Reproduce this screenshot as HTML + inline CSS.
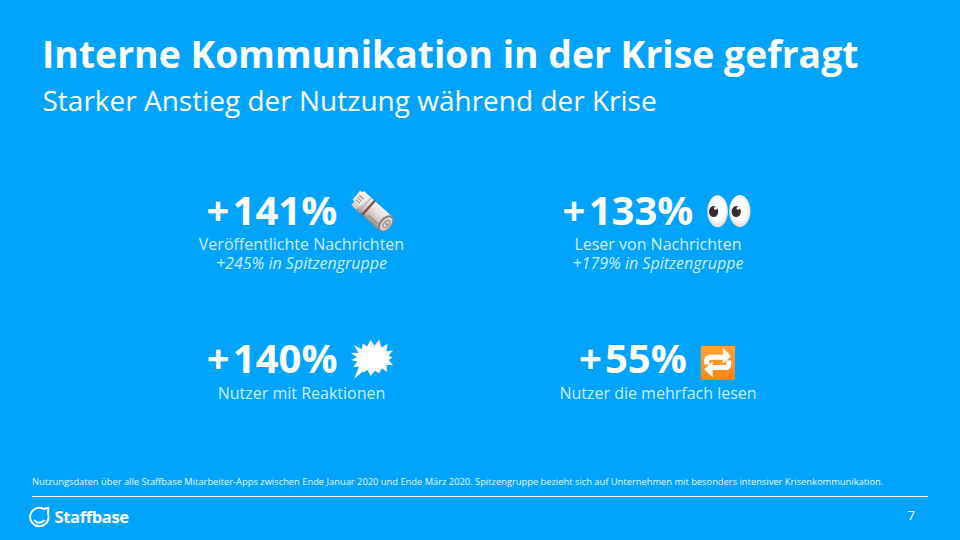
<!DOCTYPE html>
<html lang="de">
<head>
<meta charset="utf-8">
<title>Interne Kommunikation in der Krise gefragt</title>
<style>
  html, body { margin: 0; padding: 0; }
  body { width: 960px; height: 540px; overflow: hidden; background: #00A4FD; position: relative;
         font-family: "Open Sans", "Liberation Sans", sans-serif; color: #fff; }
  .abs { position: absolute; white-space: nowrap; }
  #title { left: 42px; top: 29px; font-size: 37.33px; font-weight: 700; line-height: 50px; }
  #sub { left: 42.5px; top: 81px; font-size: 28px; font-weight: 400; line-height: 38px; }
  .num { position: absolute; font-size: 40px; font-weight: 700; line-height: 54px; white-space: nowrap; }
  .num .p { position: relative; }
  .lbl { position: absolute; width: 400px; text-align: center; font-size: 16px; line-height: 20px; color: #CDEFFF; white-space: nowrap; }
  .lbl i { font-style: italic; }
  .ic { position: absolute; overflow: visible; }
  #foot { left: 32px; top: 475.2px; font-size: 9.33px; line-height: 13px; color: #E6F6FF; }
  #rule { position: absolute; left: 32px; top: 496px; width: 896px; height: 1.33px; background: #fff; }
  #pg { left: 907.5px; top: 506px; font-size: 13.33px; line-height: 18px; color: #fff; }
  #logo { position: absolute; left: 26px; top: 504px; overflow: visible; }
  #logotxt { left: 54.5px; top: 505px; font-size: 16.6px; font-weight: 700; line-height: 24px; letter-spacing: -0.4px; }
</style>
</head>
<body>
<div id="title" class="abs">Interne Kommunikation in der Krise gefragt</div>
<div id="sub" class="abs">Starker Anstieg der Nutzung während der Krise</div>

<!-- stat 1 -->
<div class="num" id="n1" style="left:209.7px; top:182.5px;"><span class="p" style="left:-3.2px">+</span>141%</div>
<svg class="ic" id="e1" width="50" height="48" viewBox="0 0 50 48" style="left:348px; top:188px;">
  <defs>
    <linearGradient id="roll" x1="0" y1="0" x2="0" y2="1">
      <stop offset="0" stop-color="#F6F2F1"/>
      <stop offset="0.45" stop-color="#E4DBD9"/>
      <stop offset="0.8" stop-color="#C3B7B4"/>
      <stop offset="1" stop-color="#94847F"/>
    </linearGradient>
    <linearGradient id="flap" x1="0" y1="0" x2="0" y2="1">
      <stop offset="0" stop-color="#FBF7F6"/>
      <stop offset="1" stop-color="#D2C8C4"/>
    </linearGradient>
  </defs>
  <g transform="translate(26.6,25.4) rotate(42)">
    <path d="M-23,-9.5 L-13,-9.5 L-13,9.5 L-23,9.5 Z" fill="url(#flap)"/>
    <path d="M-26,-7 L-15,-9.5 L-15,4 L-25.5,4.5 Z" fill="#F7F2F1"/>
    <rect x="-23.5" y="-3.8" width="6" height="1.4" fill="#A9A09A"/>
    <rect x="-23.5" y="-1" width="6" height="1.4" fill="#A9A09A"/>
    <rect x="-23.5" y="1.8" width="6" height="1.4" fill="#A9A09A"/>
    <rect x="-16" y="-9.5" width="31" height="19" fill="url(#roll)"/>
    <rect x="-13.5" y="-9.5" width="1.2" height="19" fill="#B8ACA8"/>
    <rect x="-9.5" y="-9.8" width="2.4" height="19.6" fill="#84524A"/>
    <rect x="-3" y="4.8" width="12" height="1.3" fill="#9E8883"/>
    <ellipse cx="15" cy="0" rx="6" ry="9.5" fill="#8C7C78"/>
    <ellipse cx="15.6" cy="0" rx="4.6" ry="7.9" fill="#DDD3D1"/>
    <ellipse cx="16" cy="0" rx="2.5" ry="4.4" fill="none" stroke="#9A8A86" stroke-width="1.2"/><circle cx="16.2" cy="0" r="1.1" fill="#8E7470"/>
  </g>
</svg>
<div class="lbl" style="left:101.5px; top:234.2px;">Veröffentlichte Nachrichten</div>
<div class="lbl" style="left:101.5px; top:253.1px;"><i>+245% in Spitzengruppe</i></div>

<!-- stat 2 -->
<div class="num" id="n2" style="left:565.8px; top:182.5px;"><span class="p" style="left:-3.2px">+</span>133%</div>
<svg class="ic" id="e2" width="50" height="40" viewBox="0 0 50 40" style="left:704px; top:191px;">
  <defs>
    <radialGradient id="eye" cx="0.5" cy="0.45" r="0.55">
      <stop offset="0.6" stop-color="#FFFFFF"/>
      <stop offset="1" stop-color="#E2D8DA"/>
    </radialGradient>
  </defs>
  <ellipse cx="13.6" cy="20.2" rx="10.3" ry="16" fill="url(#eye)"/>
  <ellipse cx="35.8" cy="20" rx="10.6" ry="16" fill="url(#eye)"/>
  <ellipse cx="9.6" cy="20.6" rx="4.6" ry="5.5" fill="#352B2B"/>
  <ellipse cx="32.2" cy="20.6" rx="4.6" ry="5.5" fill="#352B2B"/>
  <circle cx="11.5" cy="17.2" r="1.5" fill="#fff"/>
  <circle cx="34.1" cy="17.2" r="1.5" fill="#fff"/>
</svg>
<div class="lbl" style="left:458px; top:234.2px;">Leser von Nachrichten</div>
<div class="lbl" style="left:458px; top:253.1px;"><i>+179% in Spitzengruppe</i></div>

<!-- stat 3 -->
<div class="num" id="n3" style="left:209.9px; top:331.4px;"><span class="p" style="left:-3.2px">+</span>140%</div>
<svg class="ic" id="e3" width="52" height="50" viewBox="0 0 52 50" style="left:346px; top:334px;">
  <defs>
    <radialGradient id="bub" cx="0.55" cy="0.5" r="0.6">
      <stop offset="0.5" stop-color="#FFFFFF"/>
      <stop offset="1" stop-color="#F3ECEE"/>
    </radialGradient>
  </defs>
  <polygon fill="url(#bub)" points="33.1,5.4 35.4,13.5 41.6,10.0 40.4,17.4 47.2,16.2 42.6,21.6 46.6,23.4 42.7,26.1 47.0,31.3 40.5,30.8 41.1,38.0 35.8,34.6 33.1,39.4 29.0,36.7 24.7,42.0 21.4,36.0 17.5,38.6 14.8,32.4 7.3,33.1 11.4,27.4 5.0,26.0 10.9,23.2 4.8,18.8 12.3,19.0 8.0,11.0 15.6,15.3 16.8,9.6 21.2,12.4 24.7,5.8 28.5,11.7"/>
  <polygon fill="#FFFFFF" points="14,30.5 20.5,34.5 8.2,44.5"/>
</svg>
<div class="lbl" style="left:101.5px; top:383.3px;">Nutzer mit Reaktionen</div>

<!-- stat 4 -->
<div class="num" id="n4" style="left:582.1px; top:331.4px;"><span class="p" style="left:-3.2px">+</span>55%</div>
<svg class="ic" id="e4" width="36" height="36" viewBox="0 0 36 36" style="left:700px; top:345px;">
  <defs>
    <linearGradient id="org" x1="0" y1="0" x2="0" y2="1">
      <stop offset="0" stop-color="#FFA43A"/>
      <stop offset="1" stop-color="#FF8414"/>
    </linearGradient>
  </defs>
  <rect x="0.8" y="1" width="34.2" height="33.8" rx="1.2" fill="url(#org)"/>
  <path d="M12.3 22.6 L25 22.6 Q28.8 22.6 28.8 18.8 L28.8 15.6" fill="none" stroke="#fff" stroke-width="5"/>
  <polygon points="12.6,16.6 4.2,24.2 12.6,32.2" fill="#fff"/>
  <path d="M23.2 12.2 L10.5 12.2 Q6.7 12.2 6.7 16 L6.7 19.4" fill="none" stroke="#fff" stroke-width="5"/>
  <polygon points="22.8,2.8 31.2,11.2 22.8,18.8" fill="#fff"/>
</svg>
<div class="lbl" style="left:458px; top:383.3px;">Nutzer die mehrfach lesen</div>

<div id="foot" class="abs">Nutzungsdaten über alle Staffbase Mitarbeiter-Apps zwischen Ende Januar 2020 und Ende März 2020. Spitzengruppe bezieht sich auf Unternehmen mit besonders intensiver Krisenkommunikation.</div>
<div id="rule"></div>
<svg id="logo" width="26" height="26" viewBox="26 504 26 26">
  <path d="M48.04 514.0 A 9.2 9.2 0 1 1 43.9 509.0 L 48.3 507.6 Z" fill="none" stroke="#fff" stroke-width="1.9" stroke-linejoin="round"/>
  <path d="M34.7 520.6 Q39.3 525 43.9 520.6" fill="none" stroke="#fff" stroke-width="1.9" stroke-linecap="round"/>
</svg>
<div id="logotxt" class="abs">Staffbase</div>
<div id="pg" class="abs">7</div>
</body>
</html>
